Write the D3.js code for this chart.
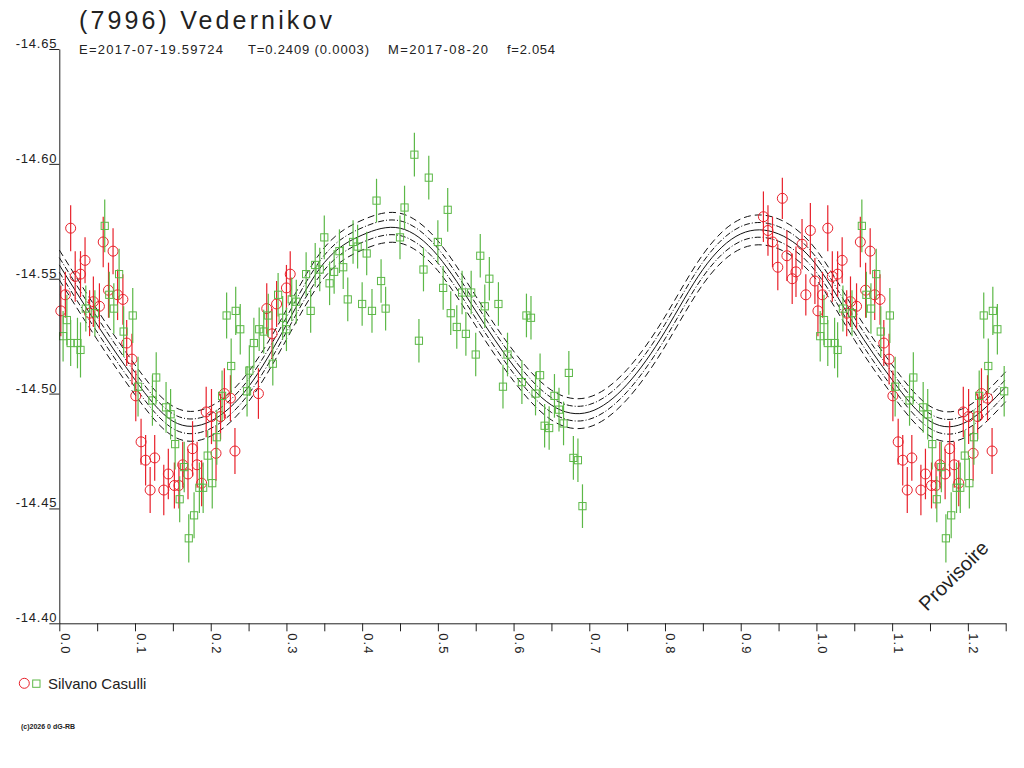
<!DOCTYPE html>
<html>
<head>
<meta charset="utf-8">
<script src="https://cdn.jsdelivr.net/npm/d3@7"></script>
<style>
  body { margin: 0; background: #fff; }
  text { font-family: "Liberation Sans", Arial, sans-serif; fill: #222; }
</style>
</head>
<body>
<div id="chart"></div>
<script>
var svgWidth = 1024;
var svgHeight = 768;

// observations: [phase, magnitude, error]
var redObs = [
  [0.002, -14.536, 0.011], [0.008, -14.543, 0.010], [0.015, -14.572, 0.010],
  [0.021, -14.551, 0.011], [0.028, -14.552, 0.010], [0.034, -14.558, 0.010],
  [0.040, -14.535, 0.010], [0.045, -14.540, 0.011], [0.053, -14.538, 0.010],
  [0.058, -14.566, 0.011], [0.065, -14.545, 0.012], [0.071, -14.562, 0.010],
  [0.077, -14.543, 0.011], [0.084, -14.541, 0.011], [0.089, -14.522, 0.010],
  [0.096, -14.515, 0.011], [0.101, -14.499, 0.011], [0.108, -14.479, 0.010],
  [0.114, -14.471, 0.011], [0.120, -14.458, 0.010], [0.126, -14.472, 0.010],
  [0.138, -14.458, 0.011], [0.144, -14.465, 0.011], [0.152, -14.460, 0.010],
  [0.158, -14.460, 0.010], [0.163, -14.469, 0.010], [0.170, -14.465, 0.011],
  [0.176, -14.476, 0.012], [0.182, -14.469, 0.010], [0.188, -14.461, 0.010],
  [0.194, -14.492, 0.011], [0.201, -14.490, 0.012], [0.207, -14.474, 0.012],
  [0.213, -14.490, 0.010], [0.218, -14.500, 0.011], [0.226, -14.498, 0.010],
  [0.232, -14.475, 0.010], [0.263, -14.500, 0.011], [0.274, -14.537, 0.011],
  [0.281, -14.526, 0.011], [0.287, -14.539, 0.010], [0.300, -14.546, 0.010],
  [0.305, -14.552, 0.010], [0.930, -14.577, 0.011], [0.936, -14.571, 0.011],
  [0.942, -14.566, 0.011], [0.949, -14.555, 0.010], [0.955, -14.585, 0.009],
  [0.961, -14.560, 0.011], [0.968, -14.550, 0.011], [0.973, -14.553, 0.011],
  [0.981, -14.565, 0.011], [0.986, -14.543, 0.009], [0.992, -14.571, 0.012],
  [0.998, -14.549, 0.010]
];

var greenObs = [
  [0.005, -14.525, 0.011], [0.010, -14.532, 0.011], [0.015, -14.522, 0.010],
  [0.024, -14.522, 0.011], [0.028, -14.519, 0.012], [0.035, -14.537, 0.010],
  [0.047, -14.535, 0.010], [0.060, -14.573, 0.0115], [0.066, -14.543, 0.010],
  [0.072, -14.537, 0.011], [0.079, -14.552, 0.011], [0.085, -14.527, 0.011],
  [0.097, -14.534, 0.012], [0.104, -14.503, 0.013], [0.123, -14.497, 0.011],
  [0.128, -14.507, 0.011], [0.141, -14.494, 0.011], [0.147, -14.491, 0.011],
  [0.153, -14.478, 0.011], [0.159, -14.454, 0.010], [0.165, -14.468, 0.011],
  [0.171, -14.437, 0.0105], [0.178, -14.447, 0.010], [0.185, -14.459, 0.011],
  [0.190, -14.459, 0.011], [0.196, -14.473, 0.011], [0.202, -14.461, 0.011],
  [0.208, -14.481, 0.012], [0.215, -14.499, 0.011], [0.221, -14.534, 0.010],
  [0.227, -14.512, 0.012], [0.233, -14.536, 0.0105], [0.239, -14.528, 0.011],
  [0.248, -14.501, 0.011], [0.251, -14.510, 0.011], [0.257, -14.522, 0.011],
  [0.264, -14.528, 0.0095], [0.270, -14.527, 0.0095], [0.276, -14.534, 0.0095],
  [0.282, -14.513, 0.0095], [0.289, -14.543, 0.0095], [0.295, -14.533, 0.0095],
  [0.300, -14.528, 0.0095], [0.307, -14.541, 0.0095], [0.313, -14.540, 0.0095],
  [0.326, -14.552, 0.0095], [0.332, -14.536, 0.0095], [0.338, -14.556, 0.0095],
  [0.344, -14.554, 0.0095], [0.350, -14.568, 0.0095], [0.357, -14.548, 0.0095],
  [0.363, -14.553, 0.0095], [0.370, -14.562, 0.0095], [0.375, -14.555, 0.0095],
  [0.381, -14.541, 0.0095], [0.388, -14.566, 0.0095], [0.394, -14.564, 0.0095],
  [0.400, -14.539, 0.0095], [0.406, -14.561, 0.0095], [0.413, -14.536, 0.0095],
  [0.419, -14.584, 0.0095], [0.425, -14.549, 0.0095], [0.431, -14.537, 0.0095],
  [0.450, -14.568, 0.0095], [0.456, -14.581, 0.0095], [0.469, -14.604, 0.0095],
  [0.475, -14.523, 0.0095], [0.481, -14.554, 0.0095], [0.488, -14.594, 0.0095],
  [0.500, -14.566, 0.0095], [0.507, -14.546, 0.0095], [0.513, -14.580, 0.0095],
  [0.517, -14.535, 0.0095], [0.525, -14.529, 0.0095], [0.532, -14.544, 0.0095],
  [0.537, -14.526, 0.0095], [0.544, -14.544, 0.0095], [0.550, -14.517, 0.0095],
  [0.556, -14.560, 0.0095], [0.562, -14.538, 0.0095], [0.568, -14.550, 0.0095],
  [0.580, -14.539, 0.0095], [0.586, -14.503, 0.0095], [0.592, -14.517, 0.0095],
  [0.611, -14.505, 0.0095], [0.617, -14.534, 0.0095], [0.623, -14.533, 0.0095],
  [0.629, -14.500, 0.0095], [0.635, -14.508, 0.0095], [0.641, -14.486, 0.0095],
  [0.647, -14.485, 0.0095], [0.654, -14.499, 0.0095], [0.660, -14.493, 0.0095],
  [0.666, -14.487, 0.0095], [0.673, -14.509, 0.0095], [0.679, -14.472, 0.0095],
  [0.685, -14.471, 0.0095], [0.691, -14.451, 0.0095]
];

// fitted lightcurve
var modelPhase = [0.00, 0.05, 0.10, 0.15, 0.20, 0.25, 0.30, 0.35, 0.40, 0.45, 0.50,
                  0.55, 0.60, 0.65, 0.70, 0.75, 0.80, 0.85, 0.90, 0.95, 1.00];
var modelMag = [-14.556, -14.530, -14.506, -14.488, -14.488, -14.503, -14.530, -14.557,
                -14.569, -14.572, -14.560, -14.536, -14.512, -14.495, -14.492, -14.504,
                -14.527, -14.554, -14.5695, -14.5695, -14.556];
var bandOffsets = [-0.0065, -0.0032, 0.0032, 0.0065];

var yTickValues = [-14.65, -14.60, -14.55, -14.50, -14.45, -14.40];
var xTickValues = [0, 0.05, 0.1, 0.15, 0.2, 0.25, 0.3, 0.35, 0.4, 0.45, 0.5, 0.55, 0.6,
                   0.65, 0.7, 0.75, 0.8, 0.85, 0.9, 0.95, 1.0, 1.05, 1.1, 1.15, 1.2, 1.25];
var xTickLabels = ["0.0", "", "0.1", "", "0.2", "", "0.3", "", "0.4", "", "0.5", "", "0.6",
                   "", "0.7", "", "0.8", "", "0.9", "", "1.0", "", "1.1", "", "1.2", ""];

var titleText = "(7996) Vedernikov";
var subTexts = ["E=2017-07-19.59724", "T=0.2409 (0.0003)", "M=2017-08-20", "f=2.054"];
var observer = "Silvano Casulli";

var redColor = "#e8212b";
var greenColor = "#5cb847";

var svg = d3.select("#chart")
  .append("svg")
  .attr("width", svgWidth)
  .attr("height", svgHeight);

svg.append("rect").attr("width", svgWidth).attr("height", svgHeight).attr("fill", "#fff");

var x = d3.scaleLinear().domain([0, 1.25]).range([59.3, 1005.7]);
var y = d3.scaleLinear().domain([-14.65, -14.40]).range([49, 623.3]);

// fold: phases below 0.25 are shown again after 1.0
function unfold(rows) {
  var out = rows.slice();
  rows.forEach(function (r) {
    if (r[0] + 1 <= 1.25) out.push([r[0] + 1].concat(r.slice(1)));
  });
  return out;
}

// model curve and its bands
var modelPts = modelPhase.map((p, i) => [p, modelMag[i]]);
modelPts = modelPts.concat(modelPts.filter(d => d[0] > 0 && d[0] <= 0.25).map(d => [d[0] + 1, d[1]]));

var line = d3.line()
  .x(d => x(d[0]))
  .y(d => y(d[1]))
  .curve(d3.curveNatural);

var curveGroup = svg.append("g").attr("fill", "none").attr("stroke", "#111").attr("stroke-width", 1);

bandOffsets.forEach(function (off) {
  curveGroup.append("path")
    .attr("d", line(modelPts.map(d => [d[0], d[1] + off])))
    .attr("stroke-dasharray", Math.abs(off) > 0.005 ? "7,4" : "6,2,1,2");
});
curveGroup.append("path").attr("d", line(modelPts));

// observations
function drawSeries(rows, color, shape) {
  var g = svg.append("g");
  var data = unfold(rows);
  g.selectAll("line")
    .data(data)
    .enter()
    .append("line")
    .attr("x1", d => x(d[0]))
    .attr("x2", d => x(d[0]))
    .attr("y1", d => y(d[1] - d[2]))
    .attr("y2", d => y(d[1] + d[2]))
    .attr("stroke", color)
    .attr("stroke-width", 1.2);
  if (shape === "circle") {
    g.selectAll("circle")
      .data(data)
      .enter()
      .append("circle")
      .attr("cx", d => x(d[0]))
      .attr("cy", d => y(d[1]))
      .attr("r", 5)
      .attr("fill", "none")
      .attr("stroke", color);
  } else {
    g.selectAll("rect")
      .data(data)
      .enter()
      .append("rect")
      .attr("x", d => x(d[0]) - 3.6)
      .attr("y", d => y(d[1]) - 3.6)
      .attr("width", 7.2)
      .attr("height", 7.2)
      .attr("fill", "none")
      .attr("stroke", color);
  }
}
drawSeries(redObs, redColor, "circle");
drawSeries(greenObs, greenColor, "square");

// axes
var leftAxis = d3.axisLeft(y)
  .tickValues(yTickValues)
  .tickFormat(d => d.toFixed(2))
  .tickSize(10)
  .tickSizeOuter(0)
  .tickPadding(-8);

var yAxis = svg.append("g")
  .attr("transform", `translate(${x(0)}, 0)`)
  .call(leftAxis);
yAxis.selectAll("text")
  .attr("dy", "-0.12em")
  .style("font-size", "13px")
  .style("letter-spacing", "0.8px");

var bottomAxis = d3.axisBottom(x)
  .tickValues(xTickValues)
  .tickFormat((d, i) => xTickLabels[i])
  .tickSize(8)
  .tickSizeOuter(0);

var xAxis = svg.append("g")
  .attr("transform", `translate(0, ${y(-14.40)})`)
  .call(bottomAxis);
xAxis.selectAll("text")
  .attr("transform", "rotate(90)")
  .attr("x", 10)
  .attr("y", -1)
  .attr("dy", 0)
  .style("text-anchor", "start")
  .style("font-size", "13px")
  .style("letter-spacing", "1px");

svg.selectAll(".domain, .tick line").attr("stroke", "#222");

// titles
svg.append("text")
  .attr("x", 79)
  .attr("y", 28.5)
  .attr("textLength", 253)
  .attr("lengthAdjust", "spacing")
  .style("font-size", "25px")
  .text(titleText);

var subX = [79, 248, 388, 507];
var subW = [144, 121, 100, 48];
subTexts.forEach(function (t, i) {
  svg.append("text")
    .attr("x", subX[i])
    .attr("y", 54)
    .attr("textLength", subW[i])
    .attr("lengthAdjust", "spacing")
    .style("font-size", "13px")
    .text(t);
});

// legend
svg.append("circle")
  .attr("cx", 24.3).attr("cy", 683.3).attr("r", 5)
  .attr("fill", "none").attr("stroke", redColor);
svg.append("rect")
  .attr("x", 32.7).attr("y", 680).attr("width", 7.3).attr("height", 7.3)
  .attr("fill", "none").attr("stroke", greenColor);
svg.append("text")
  .attr("x", 48)
  .attr("y", 688.5)
  .style("font-size", "15px")
  .text(observer);

svg.append("text")
  .attr("x", 21)
  .attr("y", 728.5)
  .style("font-size", "7px")
  .style("font-weight", "bold")
  .text("(c)2026 0 dG-RB");

svg.append("text")
  .attr("transform", "translate(927, 612) rotate(-45)")
  .style("font-size", "20px")
  .text("Provisoire");
</script>
</body>
</html>
